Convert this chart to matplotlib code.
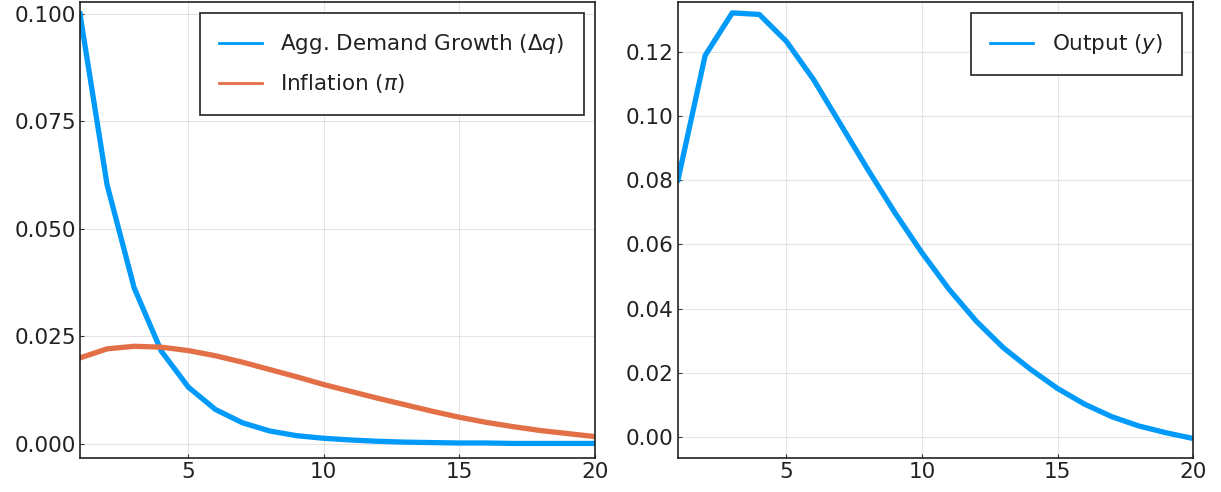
import matplotlib
matplotlib.use('Agg')
import matplotlib.pyplot as plt

# impulse responses, periods 1..20
periods = list(range(1, 21))
dq = [0.1, 0.0603, 0.0363, 0.0216, 0.0132, 0.0080, 0.0049, 0.0030, 0.0019, 0.0013,
      0.0009, 0.0006, 0.0004, 0.0003, 0.0002, 0.0002, 0.0001, 0.0001, 0.0001, 0.0001]
inflation = [0.0200, 0.0221, 0.0227, 0.0225, 0.0217, 0.0205, 0.0190, 0.0173, 0.0156, 0.0138,
             0.0122, 0.0106, 0.0091, 0.0076, 0.0062, 0.0050, 0.0040, 0.0031, 0.0024, 0.0017]
output = [0.0802, 0.1189, 0.1322, 0.1317, 0.1233, 0.1114, 0.0974, 0.0834, 0.0699, 0.0574,
          0.0460, 0.0361, 0.0278, 0.0211, 0.0151, 0.0102, 0.0063, 0.0034, 0.0013, -0.0005]

BLUE = '#009AFA'
ORANGE = '#E26F46'

plt.rcParams['font.family'] = 'DejaVu Sans'
plt.rcParams['mathtext.fontset'] = 'dejavusans'

fig = plt.figure(figsize=(12.21, 4.92), dpi=100)
ax1 = fig.add_axes([0.0655, 0.069, 0.4215, 0.927])
ax2 = fig.add_axes([0.5553, 0.069, 0.4218, 0.927])


def style_axis(ax, ylim, yticks, fmt):
    ax.set_xlim(1, 20)
    ax.set_ylim(*ylim)
    ax.set_xticks([5, 10, 15, 20])
    ax.set_yticks(yticks)
    ax.set_yticklabels([fmt.format(v) for v in yticks])
    ax.grid(True, color='#000000', alpha=0.1, linewidth=0.8)
    ax.tick_params(direction='in', length=3, width=0.8, labelsize=15.5, pad=3,
                   top=False, right=False, color='#333333', labelcolor='#222222')
    for s in ax.spines.values():
        s.set_linewidth(1.2)
        s.set_color('#222222')


def style_legend(ax):
    leg = ax.legend(loc='upper right', fontsize=15.5, fancybox=False, framealpha=1,
                    edgecolor='#222222', borderpad=0.9, handlelength=2.0,
                    labelspacing=0.75, handletextpad=0.85, borderaxespad=0.5)
    leg.get_frame().set_linewidth(1.2)
    for h in leg.get_lines():
        h.set_linewidth(2.0)
    for t in leg.get_texts():
        t.set_color('#222222')


ax1.plot(periods, dq, color=BLUE, linewidth=3.8, label=r'Agg. Demand Growth ($\Delta q$)')
ax1.plot(periods, inflation, color=ORANGE, linewidth=3.8, label=r'Inflation ($\pi$)')
style_axis(ax1, (-0.0033, 0.1028), [0.0, 0.025, 0.05, 0.075, 0.1], '{:.3f}')
style_legend(ax1)

ax2.plot(periods, output, color=BLUE, linewidth=3.8, label=r'Output ($y$)')
style_axis(ax2, (-0.0066, 0.1356), [0.0, 0.02, 0.04, 0.06, 0.08, 0.1, 0.12], '{:.2f}')
style_legend(ax2)

fig.savefig('out.png', dpi=100)
